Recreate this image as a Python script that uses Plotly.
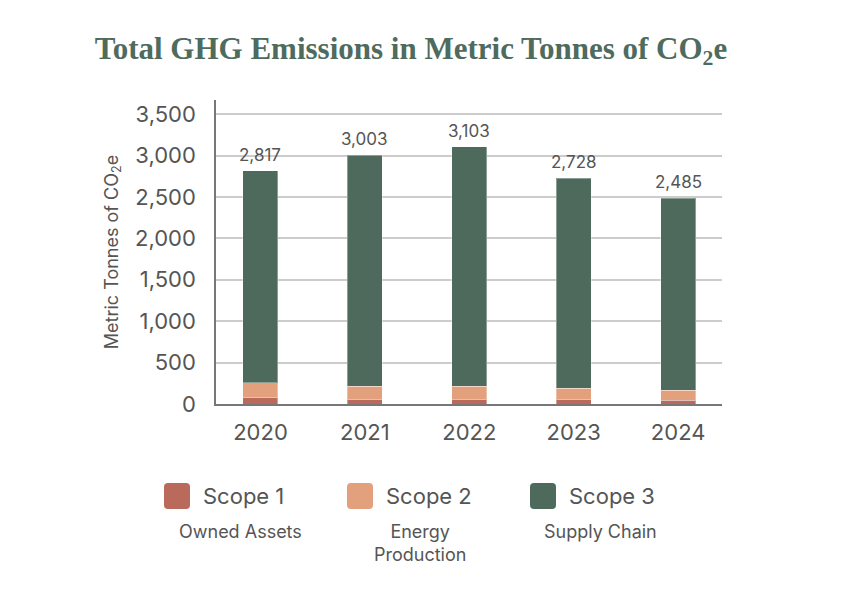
import plotly.graph_objects as go

years = ["2020", "2021", "2022", "2023", "2024"]
scope1 = [75, 60, 60, 57, 48]
scope2 = [182, 157, 157, 132, 121]
scope3 = [2560, 2786, 2886, 2539, 2316]
totals = [2817, 3003, 3103, 2728, 2485]
total_labels = ["2,817", "3,003", "3,103", "2,728", "2,485"]
y_ticks = [0, 500, 1000, 1500, 2000, 2500, 3000, 3500]
y_tick_labels = ["0", "500", "1,000", "1,500", "2,000", "2,500", "3,000", "3,500"]
legend_names = ["Scope 1", "Scope 2", "Scope 3"]
legend_subs = ["Owned Assets", "Energy<br>Production", "Supply Chain"]
colors = ["#b96a5a", "#e2a07c", "#4d6a5d"]

FONT = "Inter, Roboto, sans-serif"
GRAY = "#555555"

fig = go.Figure()
for name, vals, col in zip(legend_names, [scope1, scope2, scope3], colors):
    fig.add_trace(go.Bar(
        x=years, y=vals, name=name, marker_color=col,
        marker_line=dict(color="rgba(255,255,255,0.35)", width=1),
        width=0.335, showlegend=False, hoverinfo="skip"))

for i, (tot, lab) in enumerate(zip(totals, total_labels)):
    fig.add_annotation(x=i, y=tot, text=lab, showarrow=False, yanchor="bottom",
                       yshift=4, font=dict(family=FONT, size=17, color=GRAY))

fig.update_layout(
    barmode="stack",
    width=841, height=604,
    margin=dict(l=216, r=119, t=100, b=200),
    paper_bgcolor="white", plot_bgcolor="white",
    title=dict(text="Total GHG Emissions in Metric Tonnes of CO<sub>2</sub>e",
               x=411 / 841, xanchor="center", y=1 - 48 / 604, yanchor="middle",
               font=dict(family="Liberation Serif, DejaVu Serif, serif", size=31,
                         color="#4e6b5e", weight="bold")),
    xaxis=dict(type="category", range=[-0.426, 4.42], showline=True,
               linecolor="#777777", linewidth=2, ticks="", showgrid=False,
               tickfont=dict(family=FONT, size=22, color=GRAY), ticklabelstandoff=8),
    yaxis=dict(range=[0, 3670], tickvals=y_ticks, ticktext=y_tick_labels,
               showline=True, linecolor="#777777", linewidth=1.5,
               gridcolor="#cccccc", gridwidth=1.5, zeroline=False, ticks="",
               tickfont=dict(family=FONT, size=22, color=GRAY), ticklabelstandoff=14,
               title=dict(text="Metric Tonnes of CO<sub>2</sub>e", standoff=12,
                          font=dict(family=FONT, size=18, color=GRAY))),
)

# custom legend
sq_x = [177, 360, 543]
txt_x = [201, 384, 567]
sub_x = [240, 420, 600]
r = 4
h = 13
path = (f"M {-h+r},{-h} L {h-r},{-h} Q {h},{-h} {h},{-h+r} L {h},{h-r} Q {h},{h} {h-r},{h} "
        f"L {-h+r},{h} Q {-h},{h} {-h},{h-r} L {-h},{-h+r} Q {-h},{-h} {-h+r},{-h} Z")
for i in range(3):
    fig.add_shape(type="path", xref="paper", yref="paper",
                  xsizemode="pixel", ysizemode="pixel",
                  xanchor=(sq_x[i] - 216) / (722 - 216), yanchor=(404 - 496) / 304,
                  path=path, fillcolor=colors[i], line=dict(width=0))
    fig.add_annotation(xref="paper", yref="paper", x=(txt_x[i] - 216) / 506,
                       y=(404 - 496) / 304, xanchor="left", yanchor="middle",
                       text=legend_names[i], showarrow=False,
                       font=dict(family=FONT, size=22, color=GRAY))
    fig.add_annotation(xref="paper", yref="paper", x=(sub_x[i] - 216) / 506,
                       y=(404 - 519) / 304, xanchor="center", yanchor="top",
                       text=legend_subs[i], showarrow=False, align="center",
                       font=dict(family=FONT, size=18, color=GRAY))

fig.write_html("out.html")
